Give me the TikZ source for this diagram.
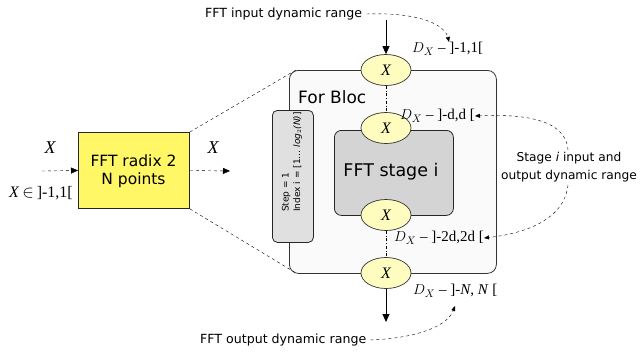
\documentclass[tikz,border=0pt]{standalone}
\usepackage{fontspec}
\setsansfont{DejaVu Sans}
\setmainfont{Liberation Serif}
\usetikzlibrary{shapes.geometric,arrows.meta}
\begin{document}
\begin{tikzpicture}[x=1pt,y=-1pt,
  sf/.style={font=\sffamily\fontsize{12.6}{14}\selectfont},
  lbl/.style={font=\fontsize{15}{16}\selectfont, inner sep=0pt, anchor=west},
  xell/.style={ellipse, draw=black!80, fill=yellow!25, line width=0.7pt, minimum width=50pt, minimum height=31pt, inner sep=0pt, font=\itshape\fontsize{16}{16}\selectfont},
  dasharr/.style={dashed, -{Triangle[length=7pt,width=6pt]}},
  thinarr/.style={dashed, -{Triangle[length=5pt,width=4pt]}},
  dd/.style={dash dot, line width=0.6pt}
]
\useasboundingbox (0,0) rectangle (641,354);
% big For Bloc box
\node[draw=black!80, fill=black!2, rounded corners=9pt, line width=0.8pt, minimum width=207pt, minimum height=203pt, anchor=north west, inner sep=0pt] (bloc) at (289,70) {};
\node[font=\sffamily\fontsize{17}{18}\selectfont, anchor=west, inner sep=0pt] (blocl) at (298,97) {For Bloc};
% step box
\node[draw=black!85, fill=black!12, rounded corners=5pt, line width=0.8pt, minimum width=41pt, minimum height=132pt, anchor=north west, inner sep=0pt] (stepbox) at (272,110) {};
\node[rotate=90, anchor=west, align=left, font=\sffamily\fontsize{9}{11.5}\selectfont, inner sep=0pt] (steptxt) at (292,212) {Step = 1\\Index i = [1\dots\ \textit{log}$_2$\textit{(N)}]};
% FFT stage
\node[draw=black!85, fill=black!17, rounded corners=7pt, line width=0.8pt, minimum width=119pt, minimum height=85pt, anchor=north west, inner sep=0pt] (stage) at (334,130) {};
\node[font=\sffamily\fontsize{17.5}{18}\selectfont] (stagel) at (391,172) {FFT stage i};
% ellipses
\node[xell] (e1) at (386,70) {X};
\node[xell] (e2) at (386,128) {X};
\node[xell] (e3) at (386,215) {X};
\node[xell] (e4) at (386,273) {X};
\draw[dd] (e1.south) -- (e2.north);
\draw[dd] (e3.south) -- (e4.north);
% yellow box
\node[draw=black!85, fill=yellow!60, line width=0.9pt, minimum width=111pt, minimum height=76pt, anchor=north west, inner sep=0pt] (fft) at (78,132) {};
\node[align=center, font=\sffamily\fontsize{15.5}{18}\selectfont] (fftl) at (133.5,171) {FFT radix 2\\N points};
\coordinate (blocnw) at (296,70);
\coordinate (blocsw) at (296,273);
\draw[dashed] (fft.north east) -- (blocnw);
\draw[dashed] (fft.south east) -- (blocsw);
% left input
\coordinate (inL) at (42,171);
\draw[dasharr] (inL) -- (fft.west);
\node[font=\itshape\fontsize{18}{18}\selectfont] (xl) at (50,148) {X};
\node[font=\fontsize{16}{16}\selectfont] (xin) at (41,193) {\textit{X}$\,\in\,$]-1,1[};
\coordinate (outR) at (230,171);
\draw[dasharr] (fft.east) -- (outR);
\node[font=\itshape\fontsize{18}{18}\selectfont] (xr) at (213,148) {X};
% top and bottom texts
\node[sf, anchor=west, inner sep=0pt] (intxt) at (205,14) {FFT input dynamic range};
\node[sf, anchor=west, inner sep=0pt] (outtxt) at (200,340) {FFT output dynamic range};
\coordinate (topin) at (386,20);
\draw[line width=0.9pt, -{Triangle[length=8pt,width=7pt]}] (topin) -- (e1.north);
\coordinate (botout) at (386,322);
\draw[line width=0.9pt, -{Triangle[length=8pt,width=7pt]}] (e4.south) -- (botout);
% range labels
\node[lbl] (l1) at (412,49) {$D_X$ – ]-1,1[};
\node[lbl] (l2) at (400,116) {$D_X$ – ]-d,d [};
\node[lbl] (l3) at (394,238) {$D_X$ – ]-2d,2d [};
\node[lbl] (l4) at (413,291) {$D_X$ – ]-\textit{N}, \textit{N} [};
% curved dashed arrows
\draw[thinarr] (intxt.east) ++(4,0) .. controls (420,12) and (445,25) .. (449,42);
\draw[thinarr] (outtxt.east) ++(4,0) .. controls (420,338) and (448,325) .. (455,306);
% stage text and arrows
\node[align=center, font=\sffamily\fontsize{12.2}{18}\selectfont] (stt) at (569,167) {Stage \textit{i} input and\\output dynamic range};
\draw[thinarr] (568,150) .. controls (566,118) and (520,114) .. (l2.east);
\draw[thinarr] (568,185) .. controls (564,222) and (520,234) .. (l3.east);
\end{tikzpicture}
\end{document}
